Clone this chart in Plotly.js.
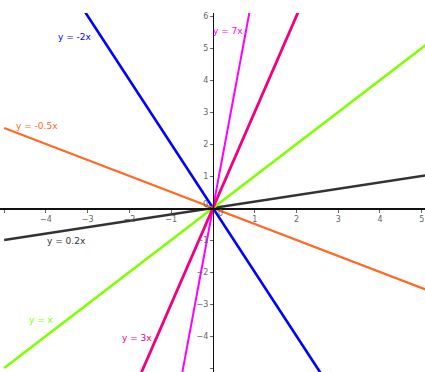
<!DOCTYPE html>
<html>
<head>
<meta charset="utf-8">
<script src="https://cdn.plot.ly/plotly-3.0.1.min.js"></script>
<style>html,body{margin:0;padding:0;background:#fff;}#chart{width:425px;height:372px;}</style>
</head>
<body>
<div id="chart"></div>
<script>
// Data
const slopes = [-2, 7, -0.5, 0.2, 1, 3];
const lineLabels = ["y = -2x", "y = 7x", "y = -0.5x", "y = 0.2x", "y = x", "y = 3x"];
const xEnds = [-5, 5.1];
const xTicks = [-5, -4, -3, -2, -1, 1, 2, 3, 4, 5];
const yTicks = [-5, -4, -3, -2, -1, 1, 2, 3, 4, 5, 6];

// Styles
const colors = ["#0000ff", "#ff00ff", "#ff6a26", "#333333", "#7fff00", "#f0007f"];
const widths = [2.6, 2, 2.2, 2.4, 2.6, 2.8];
const labelPos = [[-3.31, 5.34], [0.36, 5.53], [-4.22, 2.56], [-3.50, -1.03], [-4.10, -3.5], [-1.82, -4.06]];

const xRange = [-5.1, 5.078];
const yRange = [-5.125, 6.094];

const traces = slopes.map((m, i) => ({
  x: xEnds,
  y: xEnds.map(x => m * x),
  mode: "lines",
  type: "scatter",
  line: {color: colors[i], width: widths[i]},
  hoverinfo: "skip",
  showlegend: false
}));

const annotations = lineLabels.map((t, i) => ({
  x: labelPos[i][0], y: labelPos[i][1], xref: "x", yref: "y",
  text: t, showarrow: false,
  font: {family: "DejaVu Sans, sans-serif", size: 9, color: colors[i]}
}));
annotations.push({x: -0.19, y: 0.125, xref: "x", yref: "y", text: "0", showarrow: false,
  font: {family: "DejaVu Sans, sans-serif", size: 8, color: "#666"}});
annotations.push({x: 0.17, y: -0.16, xref: "x", yref: "y", text: "0", showarrow: false,
  font: {family: "DejaVu Sans, sans-serif", size: 8, color: "#666"}});

const xPos = (0 - yRange[0]) / (yRange[1] - yRange[0]);
const yPos = (0 - xRange[0]) / (xRange[1] - xRange[0]);

const axisCommon = {
  showgrid: false, zeroline: false, showline: true, linecolor: "#111", linewidth: 1.5,
  ticks: "outside", ticklen: 3, tickwidth: 1, tickcolor: "#666",
  tickfont: {family: "DejaVu Sans, sans-serif", size: 8, color: "#666"},
  anchor: "free", fixedrange: true
};

const layout = {
  width: 425, height: 372,
  margin: {l: 0, r: 0, t: 13, b: 0},
  paper_bgcolor: "#fff", plot_bgcolor: "#fff",
  showlegend: false,
  xaxis: Object.assign({}, axisCommon, {range: xRange, tickvals: xTicks, position: xPos, side: "bottom"}),
  yaxis: Object.assign({}, axisCommon, {range: yRange, tickvals: yTicks, position: yPos, side: "left"}),
  annotations: annotations
};

Plotly.newPlot("chart", traces, layout, {displayModeBar: false, staticPlot: true});
</script>
</body>
</html>
